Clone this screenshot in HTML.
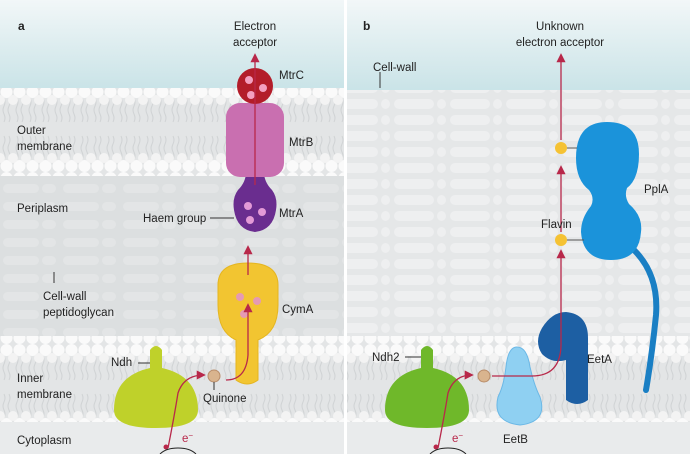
<!DOCTYPE html>
<html><head><meta charset="utf-8"><style>
html,body{margin:0;padding:0;background:#fff}
svg{display:block}
text{font-family:"Liberation Sans",sans-serif;font-size:11.5px;fill:#222}
</style></head><body>
<svg width="690" height="454" viewBox="0 0 690 454" xmlns="http://www.w3.org/2000/svg">
<defs>
<linearGradient id="sky" x1="0" y1="0" x2="0" y2="1"><stop offset="0" stop-color="#f2f7f8"/><stop offset="1" stop-color="#c9e3e7"/></linearGradient>
<pattern id="lip" width="13" height="86" patternUnits="userSpaceOnUse">
<rect width="13" height="86" fill="#e3e5e6"/>
<path d="M4 12 q2 4 0 8 q-2 4 0 8 q2 4 0 8 M9 12 q2 4 0 8 q-2 4 0 8 q2 4 0 8 M4 50 q2 4 0 8 q-2 4 0 8 q2 4 0 8 M9 50 q2 4 0 8 q-2 4 0 8 q2 4 0 8" stroke="#d0d3d4" fill="none" stroke-width="1"/>
<circle cx="6.5" cy="6" r="6" fill="#fafafa"/><circle cx="0" cy="14" r="5" fill="#f3f3f3"/><circle cx="13" cy="14" r="5" fill="#f3f3f3"/>
<circle cx="6.5" cy="80" r="6" fill="#fafafa"/><circle cx="0" cy="72" r="5" fill="#f3f3f3"/><circle cx="13" cy="72" r="5" fill="#f3f3f3"/>
</pattern>
<pattern id="pg" width="60" height="18" patternUnits="userSpaceOnUse">
<rect width="60" height="18" fill="#dcdfe0"/>
<rect x="3" y="4" width="36" height="9" rx="4.5" fill="#e3e5e6"/><rect x="42" y="4" width="14" height="9" rx="4.5" fill="#e3e5e6"/>
</pattern>
<pattern id="cw" width="56" height="16" patternUnits="userSpaceOnUse">
<rect width="56" height="16" fill="#e5e7e8"/>
<rect x="2" y="3" width="40" height="10" rx="5" fill="#eeeff0"/><rect x="45" y="3" width="9" height="10" rx="5" fill="#eeeff0"/>
</pattern>
<marker id="ar" viewBox="0 0 10 10" refX="8" refY="5" markerWidth="7" markerHeight="7" orient="auto"><path d="M0 0 L10 5 L0 10 z" fill="#b8284a"/></marker>
</defs>

<rect x="0" y="0" width="344" height="90" fill="url(#sky)"/>
<rect x="0" y="88" width="344" height="88" fill="url(#lip)"/>
<rect x="0" y="176" width="344" height="160" fill="url(#pg)"/>
<rect x="0" y="336" width="344" height="86" fill="url(#lip)"/>
<rect x="0" y="422" width="344" height="32" fill="#e9ebec"/>
<rect x="347" y="0" width="343" height="92" fill="url(#sky)"/>
<rect x="347" y="90" width="343" height="246" fill="url(#cw)"/>
<rect x="347" y="336" width="343" height="86" fill="url(#lip)"/>
<rect x="347" y="422" width="343" height="32" fill="#e9ebec"/>
<rect x="344" y="0" width="3" height="454" fill="#fff"/>

<!-- panel a proteins -->
<path d="M246 172 q0 10 -8 18 q-6 8 -4 20 q3 20 21 22 q18 -2 21 -22 q2 -12 -4 -20 q-8 -8 -8 -18 z" fill="#6a2d8f"/>
<circle cx="248" cy="206" r="4" fill="#e39ad7"/><circle cx="262" cy="212" r="4" fill="#e39ad7"/><circle cx="250" cy="220" r="4" fill="#e39ad7"/>
<rect x="226" y="103" width="58" height="74" rx="14" fill="#c96fb0"/>
<circle cx="255" cy="86" r="18" fill="#b31d2a"/>
<circle cx="249" cy="80" r="4" fill="#f3a0c0"/><circle cx="263" cy="88" r="4" fill="#f3a0c0"/><circle cx="251" cy="95" r="4" fill="#f3a0c0"/>
<path d="M236 380 l0 -40 q-18 -8 -18 -35 l0 -20 q0 -22 30 -22 q30 0 30 22 l0 20 q0 27 -20 35 l0 40 q-11 8 -22 0 z" fill="#f2c531" stroke="#e5b520"/>
<circle cx="240" cy="297" r="4" fill="#e59ab3"/><circle cx="257" cy="301" r="4" fill="#e59ab3"/><circle cx="244" cy="314" r="4" fill="#e59ab3"/>
<path d="M150 368 l0 -18 q6 -8 12 0 l0 18 q36 8 36 42 q0 18 -42 18 q-42 0 -42 -18 q0 -34 36 -42 z" fill="#bfd12a"/>
<circle cx="214" cy="376" r="6" fill="#d9b48e" stroke="#b98d6a"/>
<path d="M168 448 q6 -30 10 -55 q6 -18 26 -18" stroke="#b8284a" fill="none" stroke-width="1.3" marker-end="url(#ar)"/>
<path d="M226 380 q20 0 22 -25 l0 -50" stroke="#b8284a" fill="none" stroke-width="1.3" marker-end="url(#ar)"/>
<path d="M248 275 l0 -28" stroke="#b8284a" fill="none" stroke-width="1.3" marker-end="url(#ar)"/>
<path d="M255 185 l0 -130" stroke="#b8284a" fill="none" stroke-width="1.3" marker-end="url(#ar)"/>
<circle cx="166" cy="447" r="2.5" fill="#b8284a"/>
<path d="M160 454 q6 -6 18 -6 q12 0 18 6" stroke="#222" fill="none"/>

<!-- panel b proteins -->
<path d="M634 250 q25 25 22 65 q-4 40 -10 75" stroke="#1a7fc4" stroke-width="6" fill="none" stroke-linecap="round"/>
<path d="M607 122 q32 0 32 32 q0 25 -12 34 q-3 8 2 16 q14 12 12 28 q-2 28 -30 28 q-28 0 -30 -28 q0 -14 10 -26 q4 -8 -2 -16 q-13 -10 -13 -32 q0 -36 31 -36 z" fill="#1b93da"/>
<path d="M566 400 l0 -40 q-14 4 -24 -6 q-8 -12 0 -26 q10 -16 24 -16 q22 2 22 26 l0 62 q-11 8 -22 0 z" fill="#1d5fa3"/>
<path d="M517 347 q10 0 13 20 q4 18 10 30 q8 25 -20 28 q-28 -3 -22 -28 q6 -12 8 -30 q2 -20 11 -20 z" fill="#8fd0f2" stroke="#6bb8e6"/>
<path d="M421 368 l0 -18 q6 -8 12 0 l0 18 q36 8 36 42 q0 18 -42 18 q-42 0 -42 -18 q0 -34 36 -42 z" fill="#6fb82a"/>
<circle cx="484" cy="376" r="6" fill="#d9b48e" stroke="#b98d6a"/>
<circle cx="561" cy="148" r="6" fill="#f5c233"/>
<circle cx="561" cy="240" r="6" fill="#f5c233"/>
<line x1="567" y1="148" x2="577" y2="148" stroke="#555"/><line x1="567" y1="240" x2="584" y2="240" stroke="#555"/>
<path d="M438 448 q6 -30 10 -55 q6 -18 24 -18" stroke="#b8284a" fill="none" stroke-width="1.3" marker-end="url(#ar)"/>
<path d="M492 376 l40 0 q28 0 29 -30 l0 -95" stroke="#b8284a" fill="none" stroke-width="1.3" marker-end="url(#ar)"/>
<path d="M561 232 l0 -65" stroke="#b8284a" fill="none" stroke-width="1.3" marker-end="url(#ar)"/>
<path d="M561 140 l0 -85" stroke="#b8284a" fill="none" stroke-width="1.3" marker-end="url(#ar)"/>
<circle cx="436" cy="447" r="2.5" fill="#b8284a"/>
<path d="M430 454 q6 -6 18 -6 q12 0 18 6" stroke="#222" fill="none"/>

<line x1="210" y1="218" x2="234" y2="218" stroke="#333"/>
<line x1="138" y1="363" x2="150" y2="363" stroke="#333"/>
<line x1="214" y1="382" x2="214" y2="390" stroke="#333"/>
<line x1="54" y1="272" x2="54" y2="283" stroke="#333"/>
<line x1="405" y1="357" x2="421" y2="357" stroke="#333"/>
<line x1="380" y1="72" x2="380" y2="88" stroke="#333"/>

<text x="18" y="30" style="font-weight:bold;font-size:12px">a</text>
<text x="255" y="30" text-anchor="middle">Electron</text>
<text x="255" y="46" text-anchor="middle">acceptor</text>
<text x="279" y="79">MtrC</text>
<text x="289" y="146">MtrB</text>
<text x="279" y="217">MtrA</text>
<text x="143" y="222">Haem group</text>
<text x="17" y="134">Outer</text>
<text x="17" y="150">membrane</text>
<text x="17" y="212">Periplasm</text>
<text x="43" y="300">Cell-wall</text>
<text x="43" y="316">peptidoglycan</text>
<text x="282" y="313">CymA</text>
<text x="111" y="366">Ndh</text>
<text x="203" y="402">Quinone</text>
<text x="17" y="382">Inner</text>
<text x="17" y="398">membrane</text>
<text x="17" y="444">Cytoplasm</text>
<text x="182" y="442" style="fill:#b8284a">e<tspan dy="-4" font-size="8">−</tspan></text>
<text x="363" y="30" style="font-weight:bold;font-size:12px">b</text>
<text x="560" y="30" text-anchor="middle">Unknown</text>
<text x="560" y="46" text-anchor="middle">electron acceptor</text>
<text x="373" y="71">Cell-wall</text>
<text x="541" y="228">Flavin</text>
<text x="644" y="193">PplA</text>
<text x="587" y="363">EetA</text>
<text x="372" y="361">Ndh2</text>
<text x="503" y="443">EetB</text>
<text x="452" y="442" style="fill:#b8284a">e<tspan dy="-4" font-size="8">−</tspan></text>
</svg>
</body></html>
